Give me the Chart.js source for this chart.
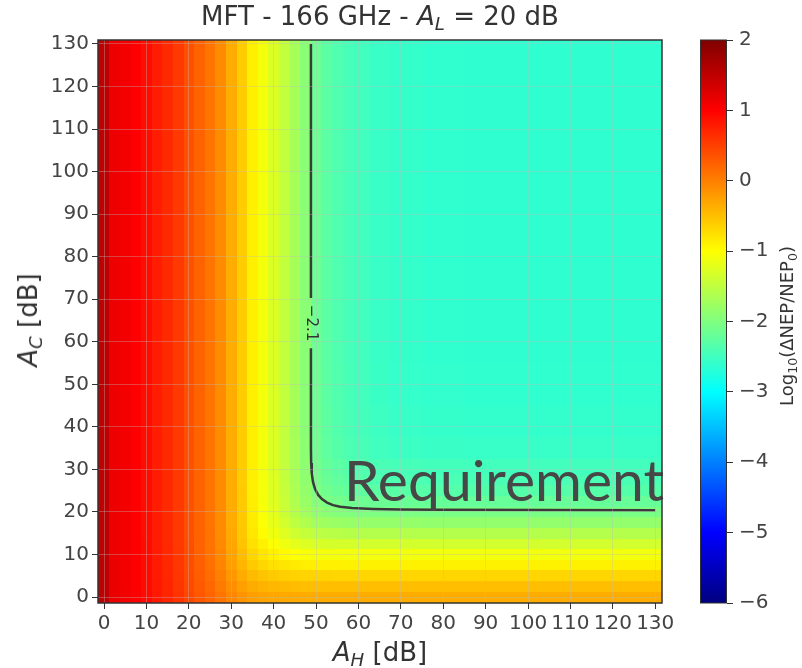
<!DOCTYPE html>
<html>
<head>
<meta charset="utf-8">
<script src="https://cdn.jsdelivr.net/npm/chart.js@4.4.1/dist/chart.umd.min.js"></script>
<style>
  html, body { margin: 0; padding: 0; background: #fff; }
  #wrap { position: relative; width: 802px; height: 668px; font-family: 'DejaVu Sans', sans-serif; color: #333; overflow: hidden; }
  canvas { position: absolute; top: 0; }
  .lbl { position: absolute; white-space: nowrap; line-height: 1; }
  .lbl sub { font-size: 0.7em; vertical-align: baseline; position: relative; top: 0.3em; }
</style>
</head>
<body>
<div id="wrap">
  <canvas id="heat" width="802" height="668" style="left:0"></canvas>
  <canvas id="cbar" width="102" height="668" style="left:700px"></canvas>
  <div class="lbl" style="left:380px; top:16px; transform:translate(-50%,-50%); font-size:26px;">MFT - 166 GHz - <i>A<sub>L</sub></i> = 20 dB</div>
  <div class="lbl" style="left:380px; top:652px; transform:translate(-50%,-50%); font-size:26px;"><i>A<sub>H</sub></i> [dB]</div>
  <div class="lbl" style="left:28px; top:320px; transform:translate(-50%,-50%) rotate(-90deg); font-size:26px;"><i>A<sub>C</sub></i> [dB]</div>
  <div class="lbl" style="left:787px; top:326px; transform:translate(-50%,-50%) rotate(-90deg); font-size:18px;">Log<sub>10</sub>(ΔNEP/NEP<sub>0</sub>)</div>
</div>
<script>
// A_H cell centres and log10(dNEP/NEP0) read along the top rows (A_C large)
const ahCenters = [0, 2.5, 5, 7.5, 10, 12.5, 15, 17.5, 20, 22.5, 25, 27.5, 30, 32.5, 35, 37.5, 40, 42.5, 45, 47.5, 50, 52.5, 55, 57.5, 60, 65, 70, 80, 90, 100, 110, 120, 130];
const hProfile = [1.5, 1.15, 1.08, 1.0, 0.9, 0.78, 0.68, 0.55, 0.38, 0.22, 0.08, -0.1, -0.35, -0.6, -0.88, -1.08, -1.28, -1.48, -1.7, -1.92, -2.15, -2.28, -2.37, -2.44, -2.49, -2.55, -2.59, -2.62, -2.63, -2.63, -2.63, -2.63, -2.63];

// A_C cell centres and values read along the right column (A_H large)
const acCenters = [0, 2.5, 5, 7.5, 10, 12.5, 15, 17.5, 20, 22.5, 25, 27.5, 30, 35, 40, 50, 60, 70, 80, 90, 100, 110, 120, 130];
const cProfile = [-0.35, -0.5, -0.68, -0.9, -1.1, -1.35, -1.6, -1.85, -2.05, -2.2, -2.33, -2.42, -2.48, -2.56, -2.6, -2.62, -2.63, -2.63, -2.63, -2.63, -2.63, -2.63, -2.63, -2.63];

// level reached when both A_H and A_C are large (shared by both profiles)
const floorLevel = -2.63;

// the -2.1 contour (null = gap for the label)
const contourAH = [48.8, 48.8, null, 48.8, 48.8, 48.85, 49.0, 49.3, 49.8, 50.5, 51.4, 52.6, 54.0, 55.7, 58.5, 63.5, 70, 78.6, 130];
const contourAC = [130, 70.3, null, 58.5, 35, 31.5, 29, 27, 25.3, 24, 23, 22.2, 21.6, 21.2, 20.9, 20.7, 20.55, 20.5, 20.4];
const contourLevel = '\u22122.1';

const cbMin = -6, cbMax = 2;
const cbTicks = [-6, -5, -4, -3, -2, -1, 0, 1, 2];

const FONT = 'DejaVu Sans';
const minus = v => v < 0 ? '\u2212' + Math.abs(v) : String(v);

function jet(v) {
    const t = (v - cbMin) / (cbMax - cbMin);
    const c = x => Math.round(255 * Math.max(0, Math.min(1, x)));
    return `rgb(${c(1.5 - Math.abs(4 * t - 3))},${c(1.5 - Math.abs(4 * t - 2))},${c(1.5 - Math.abs(4 * t - 1))})`;
}

// cell edges: midpoints between centres, outer edges on the axis bounds
function edges(centers, lo, hi) {
    const e = [lo];
    for (let i = 1; i < centers.length; i++) e.push((centers[i - 1] + centers[i]) / 2);
    e.push(hi);
    return e;
}

// contributions add in linear NEP, the shared floor counted once
function cellValue(i, j) {
    return Math.log10(Math.pow(10, hProfile[i]) + Math.pow(10, cProfile[j]) - Math.pow(10, floorLevel));
}

const heatmapPlugin = {
    id: 'heatmap',
    beforeDatasetsDraw(chart) {
        const { ctx, chartArea: a, scales: { x, y } } = chart;
        const xe = edges(ahCenters, x.min, x.max);
        const ye = edges(acCenters, y.min, y.max);
        ctx.save();
        ctx.beginPath();
        ctx.rect(a.left, a.top, a.width, a.height);
        ctx.clip();
        for (let i = 0; i < ahCenters.length; i++) {
            const x0 = Math.round(x.getPixelForValue(xe[i]));
            const x1 = Math.round(x.getPixelForValue(xe[i + 1]));
            for (let j = 0; j < acCenters.length; j++) {
                const y0 = Math.round(y.getPixelForValue(ye[j + 1]));
                const y1 = Math.round(y.getPixelForValue(ye[j]));
                ctx.fillStyle = jet(cellValue(i, j));
                ctx.fillRect(x0, y0, x1 - x0, y1 - y0);
            }
        }
        ctx.restore();
    }
};

const labelsPlugin = {
    id: 'labels',
    afterDraw(chart) {
        const { ctx, chartArea: a, scales: { x, y } } = chart;
        ctx.save();
        // contour level label, along the vertical branch
        ctx.translate(x.getPixelForValue(48.8), y.getPixelForValue(64.4));
        ctx.rotate(Math.PI / 2);
        ctx.fillStyle = '#333';
        ctx.font = `15px "${FONT}"`;
        ctx.textAlign = 'center';
        ctx.textBaseline = 'middle';
        ctx.fillText(contourLevel, 0, 0);
        ctx.restore();

        ctx.save();
        ctx.fillStyle = '#474747';
        ctx.font = '57px Lato';
        ctx.textAlign = 'left';
        ctx.textBaseline = 'alphabetic';
        ctx.fillText('Requirement', x.getPixelForValue(56.6), y.getPixelForValue(22.6));
        ctx.restore();

        ctx.save();
        ctx.strokeStyle = '#333';
        ctx.lineWidth = 1.5;
        ctx.strokeRect(a.left, a.top, a.width, a.height);
        ctx.restore();
    }
};

function axisOpts(min, max, fitKey, fitVal) {
    return {
        type: 'linear',
        min, max,
        grid: { z: 1, color: 'rgba(190,190,190,0.35)', lineWidth: 1, tickColor: '#333', tickLength: 6 },
        border: { display: false },
        ticks: {
            stepSize: 10, includeBounds: false, autoSkip: false, maxRotation: 0,
            color: '#444', padding: 3, font: { family: FONT, size: 20 },
            callback: v => String(v)
        },
        afterFit(s) { s[fitKey] = fitVal; }
    };
}

new Chart(document.getElementById('heat'), {
    type: 'scatter',
    data: {
        datasets: [{
            data: contourAH.map((h, i) => ({ x: h, y: contourAC[i] })),
            showLine: true,
            spanGaps: false,
            borderColor: '#3a3a3a',
            borderWidth: 2.5,
            pointRadius: 0,
            tension: 0
        }]
    },
    options: {
        responsive: false,
        animation: false,
        layout: { padding: { left: 0, top: 40, right: 140, bottom: 0 } },
        plugins: { legend: { display: false }, tooltip: { enabled: false } },
        scales: {
            x: axisOpts(-1.42, 131.6, 'height', 65),
            y: axisOpts(-1.41, 130.94, 'width', 98)
        }
    },
    plugins: [heatmapPlugin, labelsPlugin]
});

const colorbarPlugin = {
    id: 'colorbar',
    beforeDatasetsDraw(chart) {
        const { ctx, chartArea: a, scales: { y } } = chart;
        for (let py = Math.floor(a.top); py < Math.ceil(a.bottom); py++) {
            ctx.fillStyle = jet(y.getValueForPixel(py + 0.5));
            ctx.fillRect(a.left, py, a.width, 1);
        }
    },
    afterDraw(chart) {
        const { ctx, chartArea: a } = chart;
        ctx.save();
        ctx.strokeStyle = '#333';
        ctx.lineWidth = 1;
        ctx.strokeRect(a.left + 0.5, a.top, a.width - 1, a.height);
        ctx.restore();
    }
};

new Chart(document.getElementById('cbar'), {
    type: 'scatter',
    data: { datasets: [] },
    options: {
        responsive: false,
        animation: false,
        layout: { padding: { left: 0, top: 40, right: 0, bottom: 65 } },
        plugins: { legend: { display: false }, tooltip: { enabled: false } },
        scales: {
            x: { display: false, min: 0, max: 1 },
            y: {
                position: 'right',
                min: cbMin, max: cbMax,
                afterBuildTicks(s) { s.ticks = cbTicks.map(v => ({ value: v })); },
                grid: { drawOnChartArea: false, tickColor: '#333', tickLength: 6 },
                border: { display: false },
                ticks: { color: '#444', padding: 6, font: { family: FONT, size: 20 }, callback: v => minus(v) },
                afterFit(s) { s.width = 75; }
            }
        }
    },
    plugins: [colorbarPlugin]
});
</script>
</body>
</html>
